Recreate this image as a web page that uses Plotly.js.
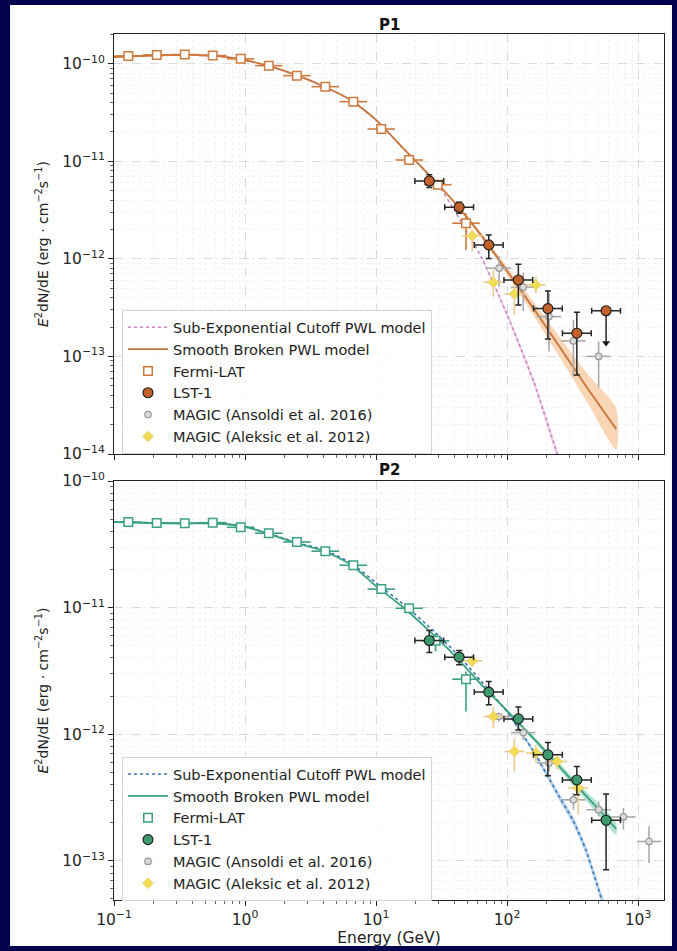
<!DOCTYPE html>
<html>
<head>
<meta charset="utf-8">
<script src="https://cdn.plot.ly/plotly-3.0.1.min.js"></script>
<style>
  html, body { margin: 0; padding: 0; background: #01014d; }
  #chart { width: 677px; height: 951px; }
</style>
</head>
<body>
<div id="chart"></div>
<script>
// ================= P1 =================
// Fermi-LAT spectral points (GeV, erg cm^-2 s^-1)
const p1FermiE  = [0.1286, 0.212, 0.347, 0.567, 0.927, 1.52, 2.49, 4.10, 6.71, 10.97, 17.9, 29.6, 48.6];
const p1FermiY  = [1.20e-10, 1.23e-10, 1.24e-10, 1.21e-10, 1.12e-10, 9.54e-11, 7.54e-11, 5.81e-11, 4.08e-11, 2.14e-11, 1.03e-11, 5.75e-12, 2.32e-12];
const p1FermiLo = [1.18e-10, 1.21e-10, 1.22e-10, 1.19e-10, 1.10e-10, 9.35e-11, 7.38e-11, 5.68e-11, 3.98e-11, 2.07e-11, 9.8e-12, 5.35e-12, 1.23e-12];
const p1FermiHi = [1.22e-10, 1.25e-10, 1.26e-10, 1.23e-10, 1.14e-10, 9.73e-11, 7.70e-11, 5.94e-11, 4.18e-11, 2.21e-11, 1.08e-11, 6.15e-12, 2.93e-12];

// LST-1 points
const p1LstE  = [25.5, 43.1, 72.5, 122, 205, 341];
const p1LstY  = [6.28e-12, 3.38e-12, 1.39e-12, 6.08e-13, 3.09e-13, 1.73e-13];
const p1LstLo = [5.37e-12, 2.93e-12, 1.01e-12, 3.37e-13, 1.51e-13, 6.46e-14];
const p1LstHi = [7.26e-12, 3.80e-12, 1.76e-12, 8.81e-13, 4.69e-13, 2.84e-13];
// LST-1 upper limit
const p1LstUlE = [570];
const p1LstUlY = [2.94e-13];

// MAGIC (Ansoldi et al. 2016)
const p1AnsE  = [86.9, 133, 209, 321, 500];
const p1AnsY  = [8.02e-13, 5.12e-13, 2.56e-13, 1.44e-13, 1.00e-13];
const p1AnsLo = [5.19e-13, 2.92e-13, 1.12e-13, 6.21e-14, 4.83e-14];
const p1AnsHi = [1.07e-12, 7.22e-13, 4.45e-13, 2.37e-13, 1.42e-13];

// MAGIC (Aleksic et al. 2012)
const p1AleE  = [54.3, 78.6, 113.7, 166];
const p1AleY  = [1.72e-12, 5.76e-13, 4.37e-13, 5.41e-13];
const p1AleLo = [1.19e-12, 4.10e-13, 2.67e-13, 4.44e-13];
const p1AleHi = [1.98e-12, 7.69e-13, 5.85e-13, 6.58e-13];

// Smooth broken power-law model and its uncertainty band
const p1SbplE = [0.1, 0.2, 0.35, 0.6, 1, 1.6, 2.5, 4, 6.5, 10, 16, 25, 40, 65, 100, 160, 250, 400, 680];
const p1SbplY = [1.17e-10, 1.21e-10, 1.23e-10, 1.20e-10, 1.09e-10, 9.25e-11, 7.57e-11, 5.84e-11, 4.20e-11, 2.65e-11, 1.37e-11, 7.41e-12, 3.74e-12, 1.67e-12, 7.52e-13, 3.07e-13, 1.27e-13, 4.99e-14, 1.81e-14];
const p1SbplBandE  = [40, 65, 100, 160, 250, 400, 680];
const p1SbplBandHi = [3.87e-12, 1.78e-12, 8.27e-13, 3.61e-13, 1.60e-13, 6.93e-14, 2.97e-14];
const p1SbplBandLo = [3.61e-12, 1.58e-12, 6.84e-13, 2.60e-13, 1.00e-13, 3.58e-14, 1.10e-14];

// Sub-exponential cutoff power-law model and its band
const p1SecE = [0.1, 0.2, 0.35, 0.6, 1, 1.6, 2.5, 4, 6.5, 10, 16, 25, 30, 40, 65, 100, 160, 240, 270];
const p1SecY = [1.17e-10, 1.21e-10, 1.23e-10, 1.20e-10, 1.09e-10, 9.25e-11, 7.57e-11, 5.84e-11, 4.20e-11, 2.65e-11, 1.37e-11, 7.41e-12, 5.71e-12, 3.06e-12, 9.86e-13, 2.69e-13, 5.48e-14, 1.03e-14, 6.3e-15];
const p1SecBandE  = [65, 100, 160, 240, 270];
const p1SecBandHi = [1.02e-12, 2.86e-13, 5.96e-14, 1.14e-14, 7.1e-15];
const p1SecBandLo = [9.53e-13, 2.54e-13, 5.05e-14, 9.2e-15, 5.6e-15];

// ================= P2 =================
const p2FermiE  = [0.1286, 0.212, 0.347, 0.567, 0.927, 1.52, 2.49, 4.10, 6.71, 10.97, 17.9, 28.5, 48.6];
const p2FermiY  = [4.74e-11, 4.66e-11, 4.64e-11, 4.69e-11, 4.31e-11, 3.87e-11, 3.30e-11, 2.79e-11, 2.16e-11, 1.40e-11, 9.88e-12, 5.46e-12, 2.72e-12];
const p2FermiLo = [4.66e-11, 4.58e-11, 4.56e-11, 4.61e-11, 4.23e-11, 3.80e-11, 3.23e-11, 2.73e-11, 2.10e-11, 1.35e-11, 9.4e-12, 4.5e-12, 1.51e-12];
const p2FermiHi = [4.82e-11, 4.74e-11, 4.72e-11, 4.77e-11, 4.39e-11, 3.94e-11, 3.37e-11, 2.85e-11, 2.22e-11, 1.45e-11, 1.04e-11, 6.3e-12, 3.13e-12];

const p2LstE  = [25.5, 43.1, 72.5, 122, 205, 341, 570];
const p2LstY  = [5.50e-12, 4.06e-12, 2.15e-12, 1.32e-12, 6.88e-13, 4.35e-13, 2.09e-13];
const p2LstLo = [4.42e-12, 3.53e-12, 1.71e-12, 1.08e-12, 4.70e-13, 3.33e-13, 8.51e-14];
const p2LstHi = [6.58e-12, 4.58e-12, 2.61e-12, 1.64e-12, 8.59e-13, 5.55e-13, 3.37e-13];

const p2AnsE  = [86.9, 133, 209, 321, 500, 773, 1213];
const p2AnsY  = [1.38e-12, 1.03e-12, 5.92e-13, 3.03e-13, 2.53e-13, 2.22e-13, 1.42e-13];
const p2AnsLo = [1.26e-12, 9.03e-13, 5.08e-13, 2.53e-13, 2.24e-13, 1.76e-13, 9.61e-14];
const p2AnsHi = [1.48e-12, 1.15e-12, 6.87e-13, 3.43e-13, 2.94e-13, 2.61e-13, 1.87e-13];

const p2AleE  = [54.3, 78.6, 113.7, 166, 241, 349];
const p2AleY  = [3.79e-12, 1.38e-12, 7.30e-13, 7.09e-13, 6.09e-13, 3.76e-13];
const p2AleLo = [3.42e-12, 1.12e-12, 5.08e-13, 5.94e-13, 5.24e-13, 2.31e-13];
const p2AleHi = [4.20e-12, 1.64e-12, 9.31e-13, 8.24e-13, 6.67e-13, 4.24e-13];

const p2SbplE = [0.1, 0.2, 0.35, 0.6, 1, 1.6, 2.5, 4, 6.5, 10, 16, 25, 40, 65, 100, 160, 250, 400, 680];
const p2SbplY = [4.74e-11, 4.66e-11, 4.62e-11, 4.62e-11, 4.35e-11, 3.75e-11, 3.22e-11, 2.81e-11, 2.17e-11, 1.48e-11, 1.01e-11, 6.67e-12, 4.16e-12, 2.41e-12, 1.53e-12, 9.21e-13, 5.58e-13, 3.27e-13, 1.79e-13];
const p2SbplBandE  = [65, 100, 160, 250, 400, 680];
const p2SbplBandHi = [2.45e-12, 1.57e-12, 9.64e-13, 5.96e-13, 3.55e-13, 2.00e-13];
const p2SbplBandLo = [2.37e-12, 1.49e-12, 8.79e-13, 5.24e-13, 3.01e-13, 1.61e-13];

const p2SecE = [0.1, 0.2, 0.35, 0.6, 1, 1.6, 2.5, 4, 6.5, 10, 16, 25, 40, 65, 100, 160, 250, 320, 400, 530, 600];
const p2SecY = [4.76e-11, 4.68e-11, 4.64e-11, 4.64e-11, 4.37e-11, 3.78e-11, 3.26e-11, 2.86e-11, 2.24e-11, 1.57e-11, 1.07e-11, 7.18e-12, 4.47e-12, 2.55e-12, 1.50e-12, 7.26e-13, 3.21e-13, 2.07e-13, 1.22e-13, 4.93e-14, 3.56e-14];
const p2SecBandE  = [100, 160, 250, 320, 400, 530, 600];
const p2SecBandHi = [1.545e-12, 7.60e-13, 3.42e-13, 2.23e-13, 1.32e-13, 5.44e-14, 3.96e-14];
const p2SecBandLo = [1.462e-12, 6.93e-13, 3.01e-13, 1.92e-13, 1.12e-13, 4.47e-14, 3.19e-14];

// Axis tick labels
const xTickVals = [0.1, 1, 10, 100, 1000];
const xTickText = ['10<sup>−1</sup>', '10<sup>0</sup>', '10<sup>1</sup>', '10<sup>2</sup>', '10<sup>3</sup>'];
const y1TickVals = [1e-14, 1e-13, 1e-12, 1e-11, 1e-10];
const y1TickText = ['10<sup>−14</sup>', '10<sup>−13</sup>', '10<sup>−12</sup>', '10<sup>−11</sup>', '10<sup>−10</sup>'];
const y2TickVals = [1e-13, 1e-12, 1e-11, 1e-10];
const y2TickText = ['10<sup>−13</sup>', '10<sup>−12</sup>', '10<sup>−11</sup>', '10<sup>−10</sup>'];

// Half bin widths in decades of energy
const FERMI_HALF_BIN = 0.105;
const LST_HALF_BIN = 0.11;
const ANS_HALF_BIN = 0.093;
const ALE_HALF_BIN = 0.076;
// Length of the upper-limit arrow, in decades of flux
const UL_ARROW_DEX = 0.33;

const LEGEND_NAMES = ['Sub-Exponential Cutoff PWL model', 'Smooth Broken PWL model', 'Fermi-LAT', 'LST-1',
                      'MAGIC (Ansoldi et al. 2016)', 'MAGIC (Aleksic et al. 2012)'];

// ---------- helpers ----------
function yErr(y, lo, hi, color, thick, cap) {
  return { type: 'data', symmetric: false, visible: true,
           array: hi.map((h, i) => h - y[i]), arrayminus: y.map((v, i) => v - lo[i]),
           color: color, thickness: thick, width: cap };
}
function xErr(E, dex, color, thick, cap) {
  return { type: 'data', symmetric: false, visible: true,
           array: E.map(e => e * (Math.pow(10, dex) - 1)),
           arrayminus: E.map(e => e * (1 - Math.pow(10, -dex))),
           color: color, thickness: thick, width: cap };
}
function band(E, lo, hi, color, xa, ya) {
  return { x: E.concat(E.slice().reverse()), y: hi.concat(lo.slice().reverse()),
           type: 'scatter', mode: 'lines', fill: 'toself', fillcolor: color,
           line: { width: 0, shape: 'spline', smoothing: 0.6 }, hoverinfo: 'skip',
           showlegend: false, xaxis: xa, yaxis: ya };
}

function panelTraces(d, st, xa, ya, leg) {
  const t = [];
  t.push(band(d.secBandE, d.secBandLo, d.secBandHi, st.secBand, xa, ya));
  t.push(band(d.sbplBandE, d.sbplBandLo, d.sbplBandHi, st.sbplBand, xa, ya));
  t.push({ x: d.secE, y: d.secY, type: 'scatter', mode: 'lines', name: LEGEND_NAMES[0],
           line: { color: st.sec, width: 1.6, dash: 'dot', shape: 'spline', smoothing: 0.6 },
           xaxis: xa, yaxis: ya, legend: leg, legendrank: 1 });
  t.push({ x: d.sbplE, y: d.sbplY, type: 'scatter', mode: 'lines', name: LEGEND_NAMES[1],
           line: { color: st.sbpl, width: 1.8, shape: 'spline', smoothing: 0.6 },
           xaxis: xa, yaxis: ya, legend: leg, legendrank: 2 });
  t.push({ x: d.fermiE, y: d.fermiY, type: 'scatter', mode: 'markers', name: LEGEND_NAMES[2],
           marker: { symbol: 'square', size: 8.5, color: '#ffffff', line: { color: st.fermi, width: 1.5 } },
           error_x: xErr(d.fermiE, FERMI_HALF_BIN, st.fermi, 1.6, 0),
           error_y: yErr(d.fermiY, d.fermiLo, d.fermiHi, st.fermi, 1.6, 0),
           xaxis: xa, yaxis: ya, legend: leg, legendrank: 3 });
  t.push({ x: d.ansE, y: d.ansY, type: 'scatter', mode: 'markers', name: LEGEND_NAMES[4],
           marker: { symbol: 'circle', size: 6.5, color: '#dcdcdc', line: { color: '#9a9a9a', width: 1.2 } },
           error_x: xErr(d.ansE, ANS_HALF_BIN, '#a9a9a9', 1.6, 0),
           error_y: yErr(d.ansY, d.ansLo, d.ansHi, '#a9a9a9', 1.6, 0),
           xaxis: xa, yaxis: ya, legend: leg, legendrank: 5 });
  t.push({ x: d.aleE, y: d.aleY, type: 'scatter', mode: 'markers', name: LEGEND_NAMES[5],
           marker: { symbol: 'diamond', size: 8, color: '#f2dc55', line: { color: '#e6c84a', width: 0.8 } },
           error_x: xErr(d.aleE, ALE_HALF_BIN, '#ebcb8e', 1.6, 0),
           error_y: yErr(d.aleY, d.aleLo, d.aleHi, '#ebcb8e', 1.6, 0),
           xaxis: xa, yaxis: ya, legend: leg, legendrank: 6 });
  t.push({ x: d.lstE, y: d.lstY, type: 'scatter', mode: 'markers', name: LEGEND_NAMES[3],
           marker: { symbol: 'circle', size: 10, color: st.lst, line: { color: '#1a1a1a', width: 1.1 } },
           error_x: xErr(d.lstE, LST_HALF_BIN, '#262626', 1.5, 3),
           error_y: yErr(d.lstY, d.lstLo, d.lstHi, '#262626', 1.5, 3),
           xaxis: xa, yaxis: ya, legend: leg, legendrank: 4 });
  if (d.ulE) {
    const tip = d.ulY.map(v => v * Math.pow(10, -UL_ARROW_DEX));
    t.push({ x: d.ulE, y: d.ulY, type: 'scatter', mode: 'markers', showlegend: false,
             marker: { symbol: 'circle', size: 10, color: st.lst, line: { color: '#1a1a1a', width: 1.1 } },
             error_x: xErr(d.ulE, LST_HALF_BIN, '#262626', 1.5, 3),
             error_y: { type: 'data', symmetric: false, array: [0],
                        arrayminus: d.ulY.map((v, i) => v - tip[i]), color: '#262626', thickness: 1.5, width: 0 },
             xaxis: xa, yaxis: ya });
    t.push({ x: d.ulE, y: tip, type: 'scatter', mode: 'markers', showlegend: false, hoverinfo: 'skip',
             marker: { symbol: 'triangle-down', size: 7, color: '#1a1a1a' }, xaxis: xa, yaxis: ya });
  }
  return t;
}

const p1 = { fermiE: p1FermiE, fermiY: p1FermiY, fermiLo: p1FermiLo, fermiHi: p1FermiHi,
             lstE: p1LstE, lstY: p1LstY, lstLo: p1LstLo, lstHi: p1LstHi, ulE: p1LstUlE, ulY: p1LstUlY,
             ansE: p1AnsE, ansY: p1AnsY, ansLo: p1AnsLo, ansHi: p1AnsHi,
             aleE: p1AleE, aleY: p1AleY, aleLo: p1AleLo, aleHi: p1AleHi,
             sbplE: p1SbplE, sbplY: p1SbplY, sbplBandE: p1SbplBandE, sbplBandLo: p1SbplBandLo, sbplBandHi: p1SbplBandHi,
             secE: p1SecE, secY: p1SecY, secBandE: p1SecBandE, secBandLo: p1SecBandLo, secBandHi: p1SecBandHi };
const p2 = { fermiE: p2FermiE, fermiY: p2FermiY, fermiLo: p2FermiLo, fermiHi: p2FermiHi,
             lstE: p2LstE, lstY: p2LstY, lstLo: p2LstLo, lstHi: p2LstHi,
             ansE: p2AnsE, ansY: p2AnsY, ansLo: p2AnsLo, ansHi: p2AnsHi,
             aleE: p2AleE, aleY: p2AleY, aleLo: p2AleLo, aleHi: p2AleHi,
             sbplE: p2SbplE, sbplY: p2SbplY, sbplBandE: p2SbplBandE, sbplBandLo: p2SbplBandLo, sbplBandHi: p2SbplBandHi,
             secE: p2SecE, secY: p2SecY, secBandE: p2SecBandE, secBandLo: p2SecBandLo, secBandHi: p2SecBandHi };

const p1Style = { sbpl: '#c8733a', sbplBand: 'rgba(246,196,150,0.7)', sec: '#c983c0', secBand: 'rgba(236,180,222,0.6)',
                  fermi: '#d07a3c', lst: '#c2622a' };
const p2Style = { sbpl: '#37a07f', sbplBand: 'rgba(150,215,188,0.7)', sec: '#3c74b2', secBand: 'rgba(160,202,235,0.75)',
                  fermi: '#3aa183', lst: '#3c9a6e' };

// Models first, data on top; LST-1 is drawn last in each panel
const traces = panelTraces(p1, p1Style, 'x', 'y', 'legend')
  .concat(panelTraces(p2, p2Style, 'x2', 'y2', 'legend2'));

const FONT = 'DejaVu Sans, Liberation Sans, sans-serif';
const YTITLE = '<i>E</i><sup>2</sup>dN/dE (erg · cm<sup>−2</sup>s<sup>−1</sup>)';

function logAxis(extra) {
  return Object.assign({
    type: 'log', tickmode: 'array',
    showline: true, linecolor: '#222', linewidth: 1.1, mirror: true,
    ticks: 'outside', ticklen: 5, tickwidth: 1, tickcolor: '#222',
    showgrid: true, gridcolor: '#d2d2d2', griddash: 'dash', gridwidth: 0.8,
    zeroline: false,
    minor: { dtick: 'D1', ticks: 'outside', ticklen: 3, tickcolor: '#444', tickwidth: 0.8,
             showgrid: true, gridcolor: '#ececec', griddash: 'dot', gridwidth: 0.7 },
    tickfont: { family: FONT, size: 15.5, color: '#262626' }
  }, extra);
}

const layout = {
  width: 677, height: 951,
  paper_bgcolor: '#01014d', plot_bgcolor: '#ffffff',
  margin: { l: 114, r: 13, t: 34, b: 51 },
  font: { family: FONT, size: 14.5, color: '#222' },
  showlegend: true,
  xaxis: logAxis({ range: [-1, 3.198], anchor: 'y', showticklabels: false,
                   tickvals: xTickVals, ticktext: xTickText }),
  yaxis: logAxis({ range: [-14, -9.696], domain: [0.515, 1], anchor: 'x',
                   tickvals: y1TickVals, ticktext: y1TickText,
                   title: { text: YTITLE, font: { family: FONT, size: 14, color: '#222' }, standoff: 10 } }),
  xaxis2: logAxis({ range: [-1, 3.198], anchor: 'y2', tickvals: xTickVals, ticktext: xTickText,
                    title: { text: 'Energy (GeV)', font: { family: FONT, size: 15.5, color: '#222' }, standoff: 0 } }),
  yaxis2: logAxis({ range: [-13.31, -10], domain: [0, 0.4838], anchor: 'x2',
                    tickvals: y2TickVals, ticktext: y2TickText,
                    title: { text: YTITLE, font: { family: FONT, size: 14, color: '#222' }, standoff: 10 } }),
  legend: { x: 0.0145, y: 0.681, xanchor: 'left', yanchor: 'top', xref: 'paper', yref: 'paper',
            bgcolor: 'rgba(255,255,255,0.85)', bordercolor: '#d4d4d4', borderwidth: 1,
            font: { family: FONT, size: 14.5, color: '#222' }, itemwidth: 40 },
  legend2: { x: 0.0145, y: 0.165, xanchor: 'left', yanchor: 'top', xref: 'paper', yref: 'paper',
             bgcolor: 'rgba(255,255,255,0.85)', bordercolor: '#d4d4d4', borderwidth: 1,
             font: { family: FONT, size: 14.5, color: '#222' }, itemwidth: 40 },
  annotations: [
    { text: '<b>P1</b>', xref: 'paper', yref: 'paper', x: 0.5, y: 1, xanchor: 'center', yanchor: 'bottom',
      yshift: -2, showarrow: false, font: { family: FONT, size: 15, color: '#111' } },
    { text: '<b>P2</b>', xref: 'paper', yref: 'paper', x: 0.5, y: 0.4838, xanchor: 'center', yanchor: 'bottom',
      yshift: 0, showarrow: false, font: { family: FONT, size: 15, color: '#111' } }
  ],
  shapes: [
    { type: 'rect', xref: 'paper', yref: 'paper', x0: -0.189, x1: 1.0145, y0: -0.0531, y1: 1.0335,
      fillcolor: '#ffffff', line: { width: 0 }, layer: 'below' }
  ]
};

Plotly.newPlot('chart', traces, layout, { displayModeBar: false, staticPlot: true });
</script>
</body>
</html>
